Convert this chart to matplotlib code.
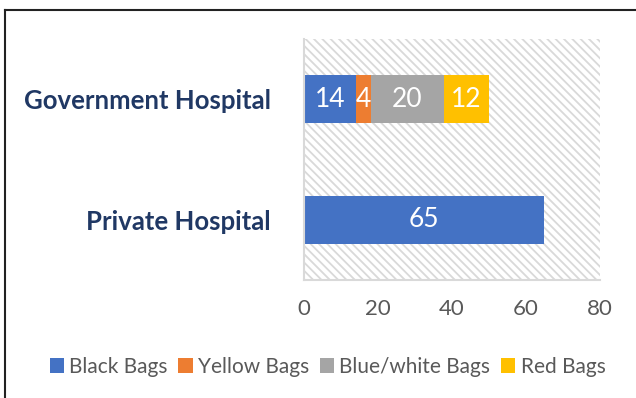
import matplotlib.pyplot as plt
from matplotlib.patches import Rectangle
from matplotlib.lines import Line2D

plt.rcParams['font.family'] = ['Lato', 'DejaVu Sans']
plt.rcParams['hatch.linewidth'] = 1.3

# waste bags per hospital type
hospitals = ['Private Hospital', 'Government Hospital']
bag_types = ['Black Bags', 'Yellow Bags', 'Blue/white Bags', 'Red Bags']
counts = {
    'Black Bags': [65, 14],
    'Yellow Bags': [0, 4],
    'Blue/white Bags': [0, 20],
    'Red Bags': [0, 12],
}
colors = ['#4472c4', '#ed7d31', '#a5a5a5', '#ffc000']

fig = plt.figure(figsize=(6.36, 3.98), dpi=100)
ax = fig.add_axes([0.478, 0.2965, 0.465, 0.6055])

# hatched plot area
ax.add_patch(Rectangle((0, 0), 1, 1, transform=ax.transAxes, facecolor='white',
                       edgecolor='#d9d9d9', hatch='\\\\\\\\', linewidth=0, zorder=0))

left = [0, 0]
for name, col in zip(bag_types, colors):
    vals = counts[name]
    bars = ax.barh(hospitals, vals, left=left, height=0.4, color=col, label=name, zorder=2)
    for b, v in zip(bars, vals):
        if v > 0:
            ax.text(b.get_x() + b.get_width() / 2, b.get_y() + b.get_height() / 2, str(v),
                    ha='center', va='center', color='white', fontsize=19, zorder=3)
    left = [l + v for l, v in zip(left, vals)]

ax.set_xlim(0, 80)
ax.set_ylim(-0.5, 1.5)
ax.set_xticks(range(0, 81, 20))
ax.tick_params(length=0, labelsize=16, labelcolor='#595959')
ax.tick_params(axis='x', pad=14)
ax.tick_params(axis='y', pad=24)
for lab in ax.get_yticklabels():
    lab.set_fontsize(18.5)
    lab.set_fontweight('bold')
    lab.set_color('#203864')
for s in ['top', 'right']:
    ax.spines[s].set_visible(False)
for s in ['left', 'bottom']:
    ax.spines[s].set_color('#d9d9d9')
    ax.spines[s].set_linewidth(1.5)

fig.legend(loc='center', bbox_to_anchor=(0.515, 0.078), ncol=4, frameon=False,
           fontsize=15, labelcolor='#595959', handlelength=0.7, handleheight=0.7,
           handletextpad=0.25, columnspacing=0.5)

# outer frame, top and left edges
fig.add_artist(Line2D([5 / 636, 1], [1 - 10 / 398, 1 - 10 / 398], transform=fig.transFigure,
                      color='#222222', linewidth=1.5))
fig.add_artist(Line2D([5 / 636, 5 / 636], [0, 1 - 10 / 398], transform=fig.transFigure,
                      color='#222222', linewidth=1.5))

fig.savefig('out.png', dpi=100)
